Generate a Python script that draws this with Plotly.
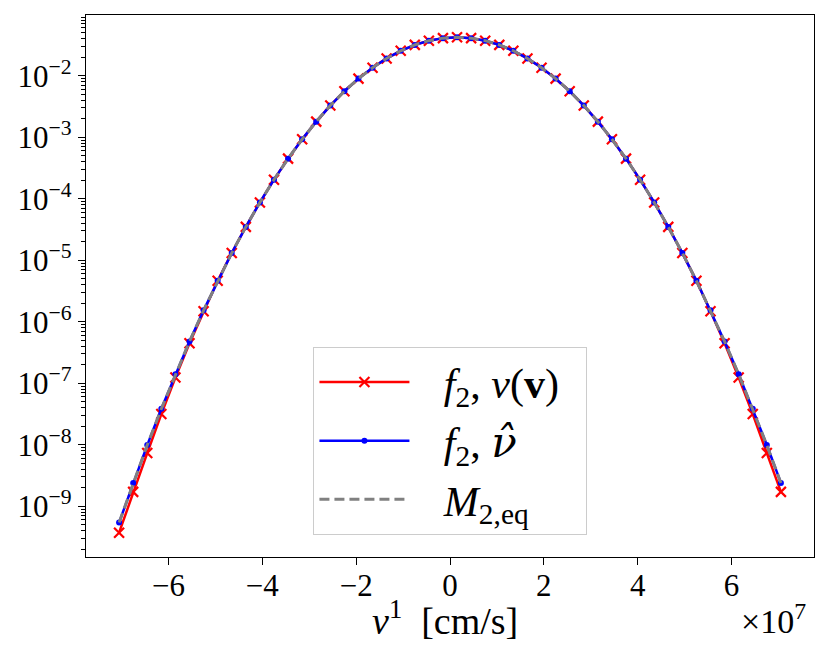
import plotly.graph_objects as go

# Data (v in units of 1e7 cm/s)
# =====================================================================
v = [-7.05, -6.75, -6.45, -6.15, -5.85, -5.55, -5.25, -4.95, -4.65, -4.35,
     -4.05, -3.75, -3.45, -3.15, -2.85, -2.55, -2.25, -1.95, -1.65, -1.35,
     -1.05, -0.75, -0.45, -0.15, 0.15, 0.45, 0.75, 1.05, 1.35, 1.65,
     1.95, 2.25, 2.55, 2.85, 3.15, 3.45, 3.75, 4.05, 4.35, 4.65,
     4.95, 5.25, 5.55, 5.85, 6.15, 6.45, 6.75, 7.05]

# f_2 with nu(v)
f_nu = [3.71e-10, 1.71e-9, 7.31e-9, 3.15e-8, 1.24e-7, 4.46e-7, 1.48e-6, 4.62e-6, 1.31e-5, 3.48e-5,
        8.69e-5, 2.04e-4, 4.48e-4, 9.26e-4, 1.79e-3, 3.27e-3, 5.59e-3, 8.97e-3, 1.35e-2, 1.91e-2,
        2.54e-2, 3.17e-2, 3.71e-2, 4.08e-2, 4.21e-2, 4.08e-2, 3.71e-2, 3.17e-2, 2.54e-2, 1.91e-2,
        1.35e-2, 8.97e-3, 5.59e-3, 3.27e-3, 1.79e-3, 9.26e-4, 4.48e-4, 2.04e-4, 8.69e-5, 3.48e-5,
        1.31e-5, 4.62e-6, 1.48e-6, 4.46e-7, 1.24e-7, 3.15e-8, 7.31e-9, 1.71e-9]

# f_2 with nu hat
f_hat = [5.42e-10, 2.39e-9, 9.86e-9, 3.83e-8, 1.40e-7, 4.78e-7, 1.53e-6, 4.62e-6, 1.31e-5, 3.48e-5,
         8.69e-5, 2.04e-4, 4.48e-4, 9.26e-4, 1.79e-3, 3.27e-3, 5.59e-3, 8.97e-3, 1.35e-2, 1.91e-2,
         2.54e-2, 3.17e-2, 3.71e-2, 4.08e-2, 4.21e-2, 4.08e-2, 3.71e-2, 3.17e-2, 2.54e-2, 1.91e-2,
         1.35e-2, 8.97e-3, 5.59e-3, 3.27e-3, 1.79e-3, 9.26e-4, 4.48e-4, 2.04e-4, 8.69e-5, 3.48e-5,
         1.31e-5, 4.62e-6, 1.53e-6, 4.78e-7, 1.40e-7, 3.83e-8, 9.86e-9, 2.39e-9]

# Equilibrium Maxwellian
m_eq = [5.42e-10, 2.39e-9, 9.86e-9, 3.83e-8, 1.40e-7, 4.78e-7, 1.53e-6, 4.62e-6, 1.31e-5, 3.48e-5,
        8.69e-5, 2.04e-4, 4.48e-4, 9.26e-4, 1.79e-3, 3.27e-3, 5.59e-3, 8.97e-3, 1.35e-2, 1.91e-2,
        2.54e-2, 3.17e-2, 3.71e-2, 4.08e-2, 4.21e-2, 4.08e-2, 3.71e-2, 3.17e-2, 2.54e-2, 1.91e-2,
        1.35e-2, 8.97e-3, 5.59e-3, 3.27e-3, 1.79e-3, 9.26e-4, 4.48e-4, 2.04e-4, 8.69e-5, 3.48e-5,
        1.31e-5, 4.62e-6, 1.53e-6, 4.78e-7, 1.40e-7, 3.83e-8, 9.86e-9, 2.39e-9]

x_ticks = [-6, -4, -2, 0, 2, 4, 6]
x_ticktext = ["\u22126", "\u22124", "\u22122", "0", "2", "4", "6"]
y_exps = [-9, -8, -7, -6, -5, -4, -3, -2]

FONT = "Liberation Serif"
PAD = "\u2002\u2009"  # gap between legend sample and label

# Figure
# =====================================================================
fig = go.Figure()

fig.add_trace(go.Scatter(
    x=v, y=f_nu, mode="lines+markers",
    name=PAD + "<i>f</i><sub>2</sub>, <i>\u03bd</i>(<b>v</b>)\u2002",
    line=dict(color="#ff0000", width=2.5),
    marker=dict(symbol="x-thin", size=10, line=dict(color="#ff0000", width=2.2)),
    legendgroup="a"
))

fig.add_trace(go.Scatter(
    x=v, y=f_hat, mode="lines+markers",
    name=PAD + "<i>f</i><sub>2</sub>, <span style=\"font-family:'DejaVu Serif'\"><i>\u03bd\u0302</i></span>",
    line=dict(color="#0000ff", width=2.5),
    marker=dict(symbol="circle", size=6, color="#0000ff"),
    legendgroup="b"
))

fig.add_trace(go.Scatter(
    x=v, y=m_eq, mode="lines",
    name=PAD + "<i>M</i><sub>2,eq</sub>",
    line=dict(color="#808080", width=3, dash="10px,5px"),
    legendgroup="c"
))

# Minor ticks on the log axis
minor_vals = [m * 10.0 ** d for d in range(-11, 0) for m in range(2, 10)]

fig.update_layout(
    width=829, height=665,
    margin=dict(l=86, r=15, t=15, b=108),
    plot_bgcolor="white", paper_bgcolor="white",
    font=dict(family=FONT, color="black", size=31),
    xaxis=dict(
        range=[-7.755, 7.755],
        tickmode="array", tickvals=x_ticks, ticktext=x_ticktext,
        ticks="outside", ticklen=7, tickwidth=1.3, tickcolor="black",
        ticklabelstandoff=-6,
        showline=True, mirror=True, linecolor="black", linewidth=1.3,
        showgrid=False, zeroline=False,
        tickfont=dict(family=FONT, size=31),
    ),
    yaxis=dict(
        type="log", range=[-9.826, -1.013],
        tickmode="array", tickvals=[10.0 ** e for e in y_exps],
        ticktext=[f"10<sup>\u2212{-e}</sup>" for e in y_exps],
        ticks="outside", ticklen=7, tickwidth=1.3, tickcolor="black",
        minor=dict(tickmode="array", tickvals=minor_vals, ticks="outside",
                   ticklen=4, tickwidth=1, tickcolor="black", showgrid=False),
        showline=True, mirror=True, linecolor="black", linewidth=1.3,
        showgrid=False, zeroline=False,
        tickfont=dict(family=FONT, size=31),
    ),
    legend=dict(
        x=0.312, y=0.3875, xanchor="left", yanchor="top",
        font=dict(family=FONT, size=42),
        bgcolor="rgba(255,255,255,0.8)",
        bordercolor="#cccccc", borderwidth=1.3,
        tracegroupgap=1, traceorder="grouped",
        itemwidth=90,
    ),
    showlegend=True,
)

# Axis label and offset text
fig.add_annotation(
    text="<i>v</i><sup>1</sup>  [cm/s]", xref="paper", yref="paper",
    x=0.493, y=-0.113, xanchor="center", yanchor="middle",
    showarrow=False, font=dict(family=FONT, size=38)
)
fig.add_annotation(
    text="\u00d710<sup>7</sup>", xref="paper", yref="paper",
    x=0.992, y=-0.115, xanchor="right", yanchor="middle",
    showarrow=False, font=dict(family=FONT, size=34)
)

fig.write_html("out.html", config={"displayModeBar": False},
               post_script="document.body.style.margin='0';document.body.style.padding='0';")
